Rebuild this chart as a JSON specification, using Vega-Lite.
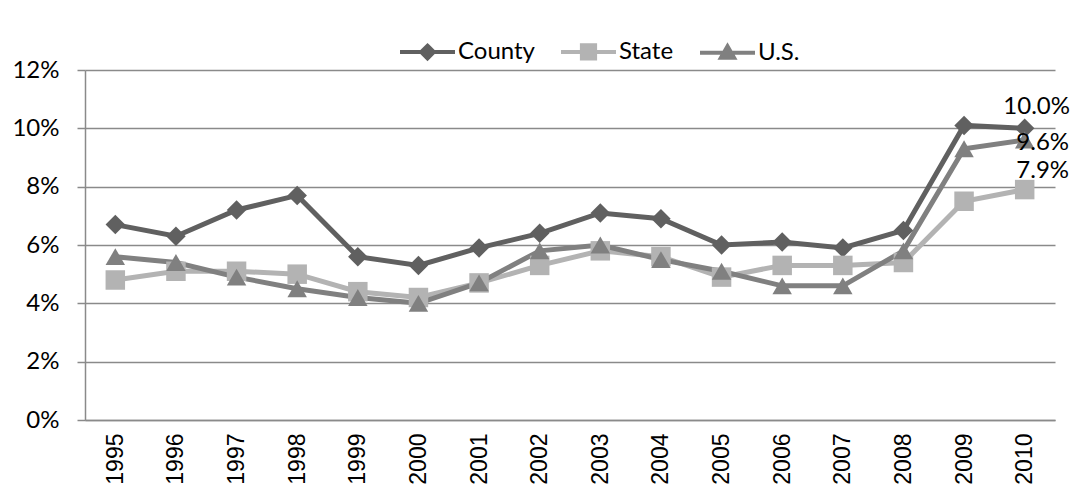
{
  "$schema": "https://vega.github.io/schema/vega-lite/v6.json",
  "width": 970,
  "height": 350,
  "autosize": {"type": "none"},
  "padding": {"left": 85, "top": 70, "right": 28, "bottom": 81},
  "background": "white",
  "config": {"view": {"stroke": null}, "font": "Lato"},
  "data": {
    "values": [
      {"year": "1995", "series": "County", "rate": 0.067},
      {"year": "1996", "series": "County", "rate": 0.063},
      {"year": "1997", "series": "County", "rate": 0.072},
      {"year": "1998", "series": "County", "rate": 0.077},
      {"year": "1999", "series": "County", "rate": 0.056},
      {"year": "2000", "series": "County", "rate": 0.053},
      {"year": "2001", "series": "County", "rate": 0.059},
      {"year": "2002", "series": "County", "rate": 0.064},
      {"year": "2003", "series": "County", "rate": 0.071},
      {"year": "2004", "series": "County", "rate": 0.069},
      {"year": "2005", "series": "County", "rate": 0.060},
      {"year": "2006", "series": "County", "rate": 0.061},
      {"year": "2007", "series": "County", "rate": 0.059},
      {"year": "2008", "series": "County", "rate": 0.065},
      {"year": "2009", "series": "County", "rate": 0.101},
      {"year": "2010", "series": "County", "rate": 0.100},
      {"year": "1995", "series": "State", "rate": 0.048},
      {"year": "1996", "series": "State", "rate": 0.051},
      {"year": "1997", "series": "State", "rate": 0.051},
      {"year": "1998", "series": "State", "rate": 0.050},
      {"year": "1999", "series": "State", "rate": 0.044},
      {"year": "2000", "series": "State", "rate": 0.042},
      {"year": "2001", "series": "State", "rate": 0.047},
      {"year": "2002", "series": "State", "rate": 0.053},
      {"year": "2003", "series": "State", "rate": 0.058},
      {"year": "2004", "series": "State", "rate": 0.056},
      {"year": "2005", "series": "State", "rate": 0.049},
      {"year": "2006", "series": "State", "rate": 0.053},
      {"year": "2007", "series": "State", "rate": 0.053},
      {"year": "2008", "series": "State", "rate": 0.054},
      {"year": "2009", "series": "State", "rate": 0.075},
      {"year": "2010", "series": "State", "rate": 0.079},
      {"year": "1995", "series": "U.S.", "rate": 0.056},
      {"year": "1996", "series": "U.S.", "rate": 0.054},
      {"year": "1997", "series": "U.S.", "rate": 0.049},
      {"year": "1998", "series": "U.S.", "rate": 0.045},
      {"year": "1999", "series": "U.S.", "rate": 0.042},
      {"year": "2000", "series": "U.S.", "rate": 0.040},
      {"year": "2001", "series": "U.S.", "rate": 0.047},
      {"year": "2002", "series": "U.S.", "rate": 0.058},
      {"year": "2003", "series": "U.S.", "rate": 0.060},
      {"year": "2004", "series": "U.S.", "rate": 0.055},
      {"year": "2005", "series": "U.S.", "rate": 0.051},
      {"year": "2006", "series": "U.S.", "rate": 0.046},
      {"year": "2007", "series": "U.S.", "rate": 0.046},
      {"year": "2008", "series": "U.S.", "rate": 0.058},
      {"year": "2009", "series": "U.S.", "rate": 0.093},
      {"year": "2010", "series": "U.S.", "rate": 0.096}
    ]
  },
  "encoding": {
    "x": {
      "field": "year",
      "type": "ordinal",
      "scale": {"type": "point", "padding": 0.5},
      "axis": {
        "title": null,
        "labelAngle": -90,
        "labelFont": "Liberation Sans",
        "labelFontSize": 23,
        "labelColor": "#000000",
        "ticks": false,
        "grid": false,
        "domainColor": "#8a8a8a",
        "domainWidth": 1.5,
        "labelPadding": 13
      }
    },
    "y": {
      "field": "rate",
      "type": "quantitative",
      "scale": {"domain": [0, 0.12], "nice": false, "zero": true},
      "axis": {
        "title": null,
        "values": [0, 0.02, 0.04, 0.06, 0.08, 0.1, 0.12],
        "format": ".0%",
        "domainColor": "#8a8a8a",
        "domainWidth": 1.5,
        "gridColor": "#8a8a8a",
        "gridWidth": 1.5,
        "tickColor": "#8a8a8a",
        "tickWidth": 1.5,
        "tickSize": 8,
        "labelFont": "Lato",
        "labelFontSize": 24,
        "labelColor": "#000000",
        "labelPadding": 18
      }
    }
  },
  "layer": [
    {
      "mark": {"type": "line", "strokeWidth": 5},
      "encoding": {
        "color": {
          "field": "series",
          "type": "nominal",
          "scale": {"domain": ["County", "State", "U.S."], "range": ["#606060", "#b3b3b3", "#808080"]},
          "legend": {
            "orient": "none",
            "legendX": 313,
            "legendY": -48,
            "direction": "horizontal",
            "title": null,
            "padding": 0,
            "symbolSize": 3025,
            "labelFont": "Lato",
            "labelFontSize": 24,
            "labelColor": "#000000",
            "labelOffset": 1,
            "columnPadding": 18,
            "encode": {
              "symbols": {
                "update": {
                  "shape": {"signal": "datum.value === 'County' ? 'M-1,0L1,0M0,-0.23L0.23,0L0,0.23L-0.23,0Z' : (datum.value === 'State' ? 'M-1,0L1,0M-0.24,-0.24L0.24,-0.24L0.24,0.24L-0.24,0.24Z' : 'M-1,0L1,0M0,-0.24L0.24,0.18L-0.24,0.18Z')"},
                  "fill": {"scale": "color", "field": "value"},
                  "stroke": {"scale": "color", "field": "value"},
                  "strokeWidth": {"value": 4},
                  "opacity": {"value": 1}
                }
              }
            }
          }
        }
      }
    },
    {
      "transform": [{"filter": "datum.series === 'County'"}],
      "mark": {"type": "point", "filled": true, "size": 380, "opacity": 1, "shape": "diamond", "color": "#606060"}
    },
    {
      "transform": [{"filter": "datum.series === 'State'"}],
      "mark": {"type": "point", "filled": true, "size": 380, "opacity": 1, "shape": "square", "color": "#b3b3b3"}
    },
    {
      "transform": [{"filter": "datum.series === 'U.S.'"}],
      "mark": {"type": "point", "filled": true, "size": 380, "opacity": 1, "shape": "triangle-up", "color": "#808080"}
    },
    {
      "transform": [{"filter": "datum.year === '2010' && datum.series === 'County'"}],
      "mark": {"type": "text", "font": "Lato", "fontSize": 24, "color": "#000000", "align": "center", "baseline": "alphabetic", "dx": 12, "dy": -14},
      "encoding": {"text": {"field": "rate", "type": "quantitative", "format": ".1%"}}
    },
    {
      "transform": [{"filter": "datum.year === '2010' && datum.series === 'U.S.'"}],
      "mark": {"type": "text", "font": "Lato", "fontSize": 24, "color": "#000000", "align": "center", "baseline": "alphabetic", "dx": 18, "dy": 10},
      "encoding": {"text": {"field": "rate", "type": "quantitative", "format": ".1%"}}
    },
    {
      "transform": [{"filter": "datum.year === '2010' && datum.series === 'State'"}],
      "mark": {"type": "text", "font": "Lato", "fontSize": 24, "color": "#000000", "align": "center", "baseline": "alphabetic", "dx": 18, "dy": -12},
      "encoding": {"text": {"field": "rate", "type": "quantitative", "format": ".1%"}}
    }
  ]
}
